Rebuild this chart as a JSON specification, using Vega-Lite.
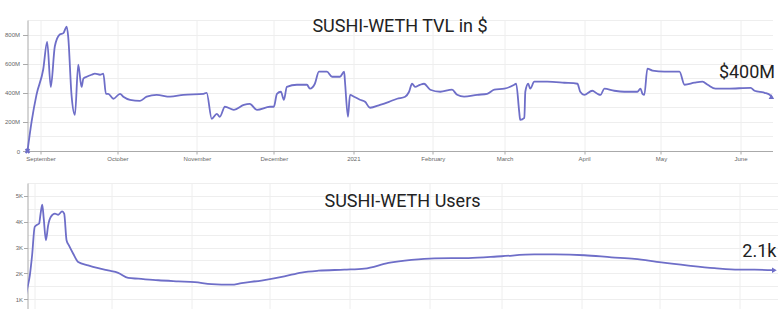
{
  "$schema": "https://vega.github.io/schema/vega-lite/v6.json",
  "background": "#ffffff",
  "padding": {"left": 3.5, "top": 18, "right": 0, "bottom": 0},
  "columns": 1,
  "align": "none",
  "spacing": 20,
  "config": {
    "view": {"stroke": null},
    "font": "Roboto",
    "axis": {"gridColor": "#eeeeee", "gridWidth": 1, "domainColor": "#aaaaaa", "tickColor": "#aaaaaa", "labelColor": "#666666", "labelFont": "Liberation Sans", "labelFontSize": 6, "title": null},
    "title": {"fontSize": 18, "fontWeight": "normal", "color": "#222222", "font": "Roboto", "anchor": "middle"}
  },
  "concat": [
    {
      "width": 745,
      "height": 131,
      "title": {"text": "SUSHI-WETH TVL in $", "offset": -16, "frame": "group"},
      "data": {"values": [
        {"date": "2020-08-26T22:00", "tvl": 0},
        {"date": "2020-08-28T12:00", "tvl": 200},
        {"date": "2020-08-30T10:00", "tvl": 386},
        {"date": "2020-09-02T01:00", "tvl": 560},
        {"date": "2020-09-03T14:00", "tvl": 750},
        {"date": "2020-09-05T00:00", "tvl": 440},
        {"date": "2020-09-06T14:00", "tvl": 720},
        {"date": "2020-09-08T12:00", "tvl": 800},
        {"date": "2020-09-09T22:00", "tvl": 810},
        {"date": "2020-09-11T05:00", "tvl": 855},
        {"date": "2020-09-11T19:00", "tvl": 786},
        {"date": "2020-09-13T02:00", "tvl": 386},
        {"date": "2020-09-14T10:00", "tvl": 248},
        {"date": "2020-09-15T17:00", "tvl": 593},
        {"date": "2020-09-17T00:00", "tvl": 440},
        {"date": "2020-09-17T17:00", "tvl": 497},
        {"date": "2020-09-19T00:00", "tvl": 510},
        {"date": "2020-09-20T22:00", "tvl": 524},
        {"date": "2020-09-22T05:00", "tvl": 531},
        {"date": "2020-09-24T05:00", "tvl": 524},
        {"date": "2020-09-25T12:00", "tvl": 531},
        {"date": "2020-09-26T12:00", "tvl": 393},
        {"date": "2020-09-27T10:00", "tvl": 393},
        {"date": "2020-09-29T10:00", "tvl": 359},
        {"date": "2020-10-02T00:00", "tvl": 393},
        {"date": "2020-10-03T07:00", "tvl": 373},
        {"date": "2020-10-05T22:00", "tvl": 352},
        {"date": "2020-10-09T19:00", "tvl": 345},
        {"date": "2020-10-12T10:00", "tvl": 373},
        {"date": "2020-10-16T07:00", "tvl": 386},
        {"date": "2020-10-21T12:00", "tvl": 373},
        {"date": "2020-10-26T17:00", "tvl": 386},
        {"date": "2020-11-03T14:00", "tvl": 393},
        {"date": "2020-11-04T19:00", "tvl": 400},
        {"date": "2020-11-06T19:00", "tvl": 221},
        {"date": "2020-11-08T18:00", "tvl": 255},
        {"date": "2020-11-09T22:00", "tvl": 235},
        {"date": "2020-11-11T22:00", "tvl": 304},
        {"date": "2020-11-15T10:00", "tvl": 283},
        {"date": "2020-11-19T07:00", "tvl": 317},
        {"date": "2020-11-21T14:00", "tvl": 324},
        {"date": "2020-11-24T10:00", "tvl": 283},
        {"date": "2020-11-29T12:00", "tvl": 304},
        {"date": "2020-12-01T00:00", "tvl": 304},
        {"date": "2020-12-02T05:00", "tvl": 393},
        {"date": "2020-12-03T18:00", "tvl": 407},
        {"date": "2020-12-04T22:00", "tvl": 352},
        {"date": "2020-12-06T02:00", "tvl": 441},
        {"date": "2020-12-10T00:00", "tvl": 455},
        {"date": "2020-12-13T22:00", "tvl": 455},
        {"date": "2020-12-15T02:00", "tvl": 428},
        {"date": "2020-12-17T00:00", "tvl": 462},
        {"date": "2020-12-18T14:00", "tvl": 545},
        {"date": "2020-12-21T17:00", "tvl": 545},
        {"date": "2020-12-23T17:00", "tvl": 510},
        {"date": "2020-12-26T19:00", "tvl": 510},
        {"date": "2020-12-28T10:00", "tvl": 545},
        {"date": "2020-12-28T18:00", "tvl": 476},
        {"date": "2020-12-29T22:00", "tvl": 235},
        {"date": "2020-12-30T17:00", "tvl": 386},
        {"date": "2021-01-01T07:00", "tvl": 373},
        {"date": "2021-01-03T14:00", "tvl": 352},
        {"date": "2021-01-05T14:00", "tvl": 338},
        {"date": "2021-01-07T12:00", "tvl": 297},
        {"date": "2021-01-11T10:00", "tvl": 317},
        {"date": "2021-01-14T22:00", "tvl": 338},
        {"date": "2021-01-18T02:00", "tvl": 359},
        {"date": "2021-01-21T05:00", "tvl": 373},
        {"date": "2021-01-22T18:00", "tvl": 407},
        {"date": "2021-01-23T22:00", "tvl": 462},
        {"date": "2021-01-25T02:00", "tvl": 441},
        {"date": "2021-01-27T00:00", "tvl": 455},
        {"date": "2021-01-28T14:00", "tvl": 462},
        {"date": "2021-01-31T00:00", "tvl": 421},
        {"date": "2021-02-03T22:00", "tvl": 407},
        {"date": "2021-02-08T12:00", "tvl": 421},
        {"date": "2021-02-10T12:00", "tvl": 386},
        {"date": "2021-02-13T05:00", "tvl": 373},
        {"date": "2021-02-18T07:00", "tvl": 386},
        {"date": "2021-02-22T05:00", "tvl": 393},
        {"date": "2021-02-25T00:00", "tvl": 421},
        {"date": "2021-02-28T22:00", "tvl": 428},
        {"date": "2021-03-04T19:00", "tvl": 455},
        {"date": "2021-03-05T12:00", "tvl": 462},
        {"date": "2021-03-06T17:00", "tvl": 269},
        {"date": "2021-03-07T02:00", "tvl": 214},
        {"date": "2021-03-08T17:00", "tvl": 228},
        {"date": "2021-03-09T02:00", "tvl": 407},
        {"date": "2021-03-10T05:00", "tvl": 462},
        {"date": "2021-03-11T00:00", "tvl": 428},
        {"date": "2021-03-12T14:00", "tvl": 476},
        {"date": "2021-03-17T17:00", "tvl": 476},
        {"date": "2021-03-24T07:00", "tvl": 469},
        {"date": "2021-03-29T10:00", "tvl": 462},
        {"date": "2021-03-30T12:00", "tvl": 407},
        {"date": "2021-04-01T02:00", "tvl": 386},
        {"date": "2021-04-04T05:00", "tvl": 414},
        {"date": "2021-04-06T05:00", "tvl": 393},
        {"date": "2021-04-07T10:00", "tvl": 386},
        {"date": "2021-04-08T22:00", "tvl": 428},
        {"date": "2021-04-12T19:00", "tvl": 414},
        {"date": "2021-04-16T17:00", "tvl": 407},
        {"date": "2021-04-21T19:00", "tvl": 407},
        {"date": "2021-04-23T00:00", "tvl": 428},
        {"date": "2021-04-23T19:00", "tvl": 393},
        {"date": "2021-04-24T12:00", "tvl": 386},
        {"date": "2021-04-25T17:00", "tvl": 566},
        {"date": "2021-04-27T17:00", "tvl": 552},
        {"date": "2021-05-02T10:00", "tvl": 545},
        {"date": "2021-05-08T05:00", "tvl": 545},
        {"date": "2021-05-10T05:00", "tvl": 455},
        {"date": "2021-05-14T02:00", "tvl": 469},
        {"date": "2021-05-17T05:00", "tvl": 476},
        {"date": "2021-05-19T05:00", "tvl": 455},
        {"date": "2021-05-22T07:00", "tvl": 428},
        {"date": "2021-05-27T00:00", "tvl": 428},
        {"date": "2021-06-05T00:00", "tvl": 434},
        {"date": "2021-06-06T12:00", "tvl": 414},
        {"date": "2021-06-10T10:00", "tvl": 400},
        {"date": "2021-06-12T10:00", "tvl": 386},
        {"date": "2021-06-13T08:00", "tvl": 366, "label": "$400M"}
      ]},
      "encoding": {
        "x": {"field": "date", "type": "temporal",
          "scale": {"domain": [{"year": 2020, "month": 8, "date": 26, "hours": 22}, {"year": 2021, "month": 6, "date": 13, "hours": 12}]},
          "axis": {"tickCount": {"interval": "month", "step": 1}, "grid": true, "tickSize": 3, "labelPadding": 1, "labelFlush": false, "labelOverlap": false, "minExtent": 12, "maxExtent": 12}},
        "y": {"field": "tvl", "type": "quantitative",
          "scale": {"domain": [0, 900]},
          "axis": {"values": [0, 100, 200, 300, 400, 500, 600, 700, 800, 900], "labelExpr": "datum.value % 200 === 0 ? (datum.value === 0 ? '0' : datum.value + 'M') : ''", "tickOpacity": {"condition": {"test": "datum.value % 200 !== 0", "value": 0}, "value": 1}, "tickSize": 5, "labelPadding": 3, "minExtent": 20, "maxExtent": 20, "grid": true}}
      },
      "layer": [
        {"mark": {"type": "line", "interpolate": "monotone", "color": "#6e6ec8", "strokeWidth": 1.8}},
        {"transform": [{"filter": "datum.label != null"}], "mark": {"type": "point", "shape": "triangle-right", "filled": true, "size": 30, "angle": 30, "color": "#6e6ec8", "opacity": 1}},
        {"transform": [{"filter": "datum.tvl === 0"}], "mark": {"type": "point", "shape": "cross", "filled": true, "size": 30, "angle": 45, "color": "#6e6ec8", "opacity": 1}},
        {"transform": [{"filter": "datum.label != null"}], "mark": {"type": "text", "align": "right", "baseline": "alphabetic", "dx": 3, "dy": -20, "fontSize": 18, "font": "Roboto", "color": "#222222"}, "encoding": {"text": {"field": "label"}}}
      ]
    },
    {
      "width": 750,
      "height": 129,
      "title": {"text": "SUSHI-WETH Users", "offset": -28, "frame": "group"},
      "data": {"values": [
        {"date": "2020-08-27T12:00", "users": 350},
        {"date": "2020-08-28T22:00", "users": 1270},
        {"date": "2020-08-30T05:00", "users": 1930},
        {"date": "2020-08-31T02:00", "users": 2710},
        {"date": "2020-09-01T02:00", "users": 3800},
        {"date": "2020-09-02T04:00", "users": 3890},
        {"date": "2020-09-02T19:00", "users": 3930},
        {"date": "2020-09-03T07:00", "users": 4260},
        {"date": "2020-09-04T00:00", "users": 4660},
        {"date": "2020-09-04T14:00", "users": 4120},
        {"date": "2020-09-05T10:00", "users": 3280},
        {"date": "2020-09-06T07:00", "users": 3860},
        {"date": "2020-09-07T07:00", "users": 4180},
        {"date": "2020-09-08T22:00", "users": 4310},
        {"date": "2020-09-10T05:00", "users": 4270},
        {"date": "2020-09-11T17:00", "users": 4400},
        {"date": "2020-09-12T12:00", "users": 4310},
        {"date": "2020-09-13T10:00", "users": 3280},
        {"date": "2020-09-14T07:00", "users": 3090},
        {"date": "2020-09-16T00:00", "users": 2760},
        {"date": "2020-09-17T22:00", "users": 2440},
        {"date": "2020-09-21T19:00", "users": 2310},
        {"date": "2020-09-25T17:00", "users": 2200},
        {"date": "2020-09-29T12:00", "users": 2110},
        {"date": "2020-10-03T10:00", "users": 2020},
        {"date": "2020-10-07T07:00", "users": 1820},
        {"date": "2020-10-11T05:00", "users": 1790},
        {"date": "2020-10-18T22:00", "users": 1730},
        {"date": "2020-10-26T17:00", "users": 1690},
        {"date": "2020-11-02T02:00", "users": 1660},
        {"date": "2020-11-08T14:00", "users": 1580},
        {"date": "2020-11-16T07:00", "users": 1560},
        {"date": "2020-11-20T05:00", "users": 1620},
        {"date": "2020-11-27T22:00", "users": 1720},
        {"date": "2020-12-06T19:00", "users": 1880},
        {"date": "2020-12-13T10:00", "users": 2030},
        {"date": "2020-12-20T00:00", "users": 2100},
        {"date": "2020-12-30T00:00", "users": 2140},
        {"date": "2021-01-06T19:00", "users": 2180},
        {"date": "2021-01-16T02:00", "users": 2400},
        {"date": "2021-01-25T00:00", "users": 2520},
        {"date": "2021-02-02T22:00", "users": 2580},
        {"date": "2021-02-16T02:00", "users": 2590},
        {"date": "2021-02-28T22:00", "users": 2660},
        {"date": "2021-03-13T14:00", "users": 2730},
        {"date": "2021-03-21T10:00", "users": 2730},
        {"date": "2021-04-02T00:00", "users": 2700},
        {"date": "2021-04-12T12:00", "users": 2620},
        {"date": "2021-04-21T10:00", "users": 2560},
        {"date": "2021-05-01T19:00", "users": 2420},
        {"date": "2021-05-12T07:00", "users": 2300},
        {"date": "2021-05-22T10:00", "users": 2200},
        {"date": "2021-05-31T17:00", "users": 2140},
        {"date": "2021-06-06T22:00", "users": 2140},
        {"date": "2021-06-14T14:00", "users": 2120, "label": "2.1k"}
      ]},
      "encoding": {
        "x": {"field": "date", "type": "temporal",
          "scale": {"domain": [{"year": 2020, "month": 8, "date": 29, "hours": 7}, {"year": 2021, "month": 6, "date": 15, "hours": 19}]},
          "axis": {"tickCount": {"interval": "month", "step": 1}, "grid": true, "labels": false, "ticks": false, "domain": false, "minExtent": 0, "maxExtent": 0}},
        "y": {"field": "users", "type": "quantitative",
          "scale": {"domain": [500, 5500]},
          "axis": {"values": [500, 1000, 1500, 2000, 2500, 3000, 3500, 4000, 4500, 5000, 5500], "labelExpr": "datum.value % 1000 === 0 ? (datum.value / 1000) + 'K' : ''", "tickOpacity": {"condition": {"test": "datum.value % 1000 !== 0", "value": 0}, "value": 1}, "tickSize": 4, "labelPadding": 1, "minExtent": 16, "maxExtent": 16, "grid": true}}
      },
      "layer": [
        {"mark": {"type": "line", "interpolate": "monotone", "color": "#6e6ec8", "strokeWidth": 1.8, "clip": true}},
        {"transform": [{"filter": "datum.label != null"}], "mark": {"type": "point", "shape": "triangle-right", "filled": true, "size": 30, "angle": 0, "color": "#6e6ec8", "opacity": 1}},
        {"transform": [{"filter": "datum.label != null"}], "mark": {"type": "text", "align": "right", "baseline": "alphabetic", "dx": 2, "dy": -13, "fontSize": 18, "font": "Roboto", "color": "#222222"}, "encoding": {"text": {"field": "label"}}}
      ]
    }
  ]
}
